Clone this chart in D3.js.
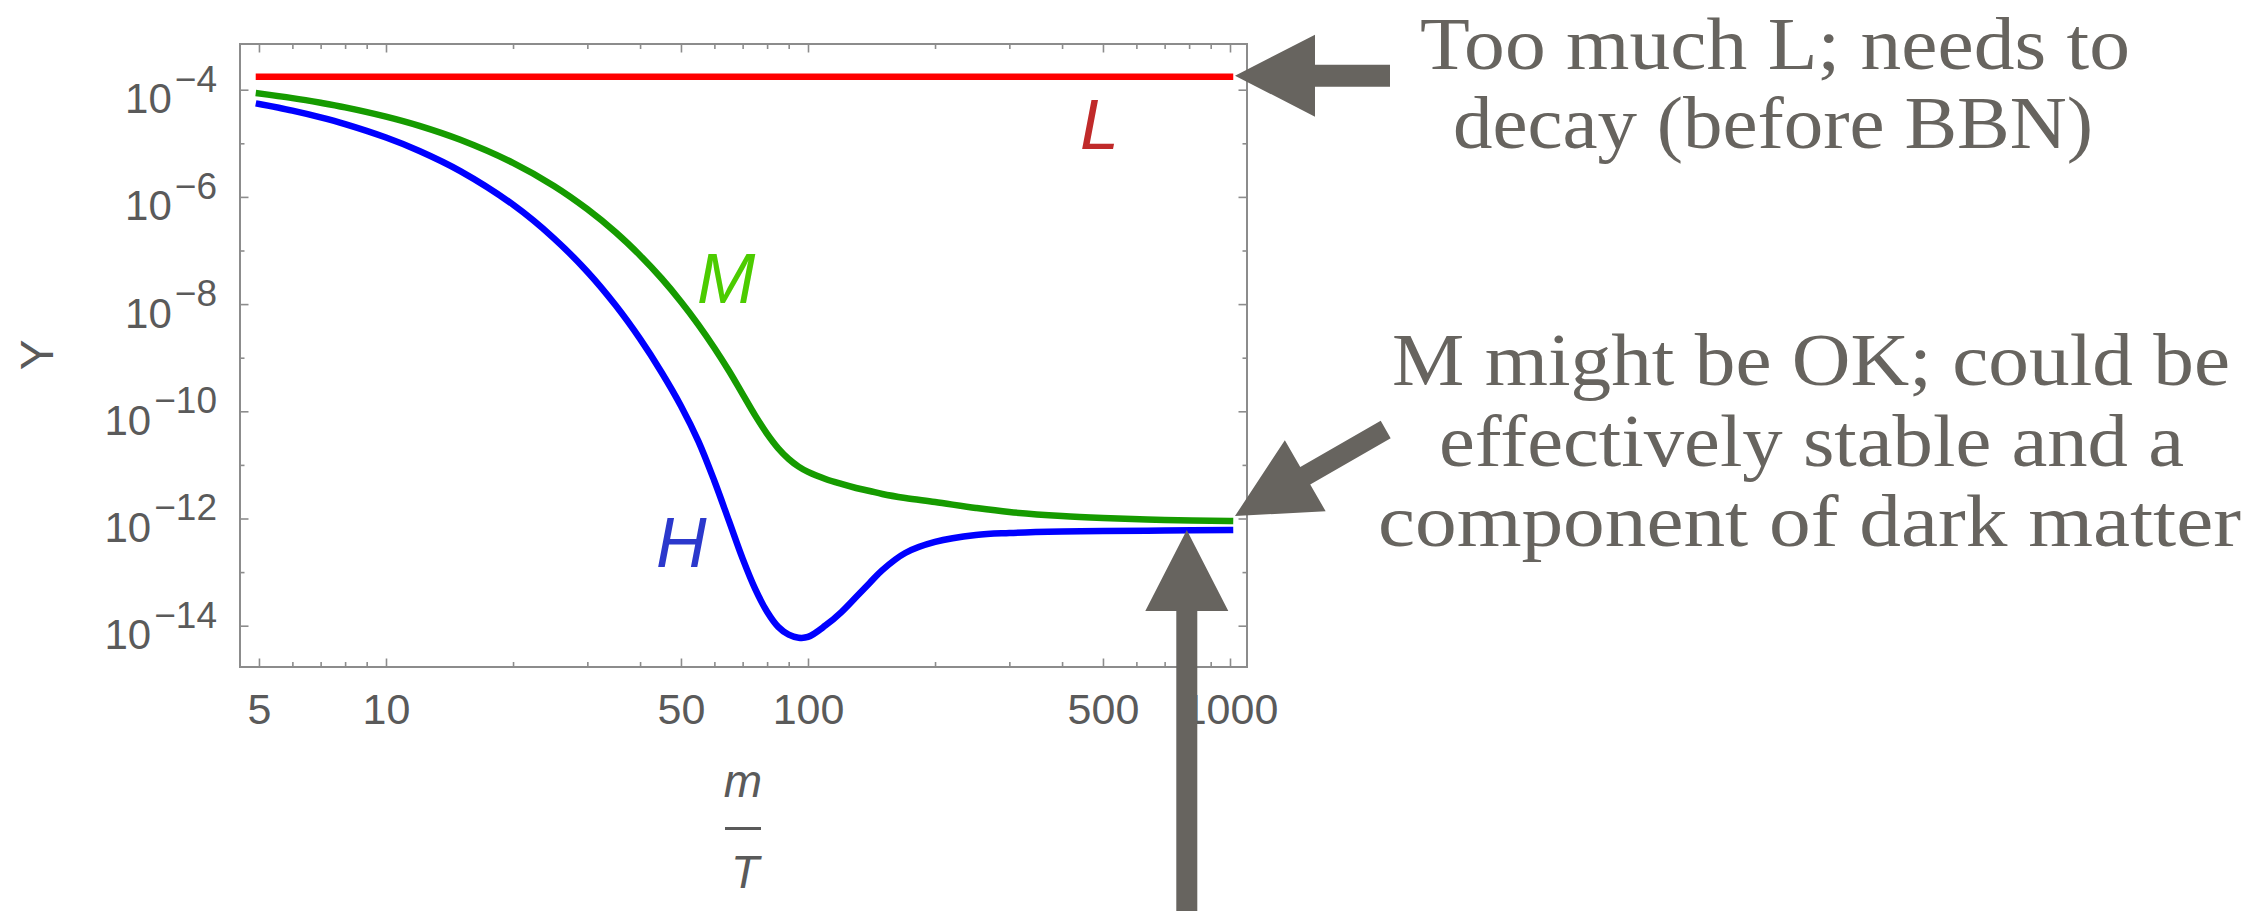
<!DOCTYPE html>
<html><head><meta charset="utf-8">
<script src="https://cdn.jsdelivr.net/npm/d3@7"></script>
<style>html,body{margin:0;padding:0;background:#fff;} svg{display:block}</style>
</head><body>
<svg id="chart" width="2268" height="911"></svg>
<script>
// ---------------- data ----------------
const mOverT = [5,6,7,8,10,12,15,20,25,30,35,40,45,50,55,60,65,70,75,80,85,90,95,100,110,120,130,140,150,170,200,250,300,400,500,700,1000];
const yM = [8.49e-5,6.97e-5,5.70e-5,4.68e-5,3.14e-5,2.11e-5,1.16e-5,4.31e-6,1.60e-6,5.90e-7,2.19e-7,8.09e-8,3.00e-8,1.11e-8,4.11e-9,1.52e-9,5.64e-10,2.09e-10,8.3e-11,3.8e-11,2.04e-11,1.29e-11,9.3e-12,7.4e-12,5.46e-12,4.41e-12,3.71e-12,3.26e-12,2.86e-12,2.41e-12,2.03e-12,1.57e-12,1.32e-12,1.11e-12,1.02e-12,9.37e-13,8.97e-13];
const yH = [5.41e-5,4.06e-5,3.04e-5,2.28e-5,1.28e-5,7.19e-6,3.03e-6,7.16e-7,1.69e-7,4.01e-8,9.48e-9,2.24e-9,5.31e-10,1.26e-10,2.75e-11,5.0e-12,8.9e-13,1.78e-13,4.8e-14,1.82e-14,9.5e-15,6.8e-15,5.96e-15,6.17e-15,1.01e-14,1.80e-14,3.43e-14,6.27e-14,1.09e-13,2.27e-13,3.65e-13,4.92e-13,5.36e-13,5.71e-13,5.85e-13,5.97e-13,6.10e-13];
const xL = [5, 1000];
const yL = [1.75e-4, 1.75e-4];

const xMajor = [5,10,50,100,500,1000];
const xTickLabels = ["5","10","50","100","500","1000"];
const xMinor = [6,7,8,9,20,30,40,60,70,80,90,200,300,400,600,700,800,900];
const yMajor = [1e-4,1e-6,1e-8,1e-10,1e-12,1e-14];
const yTickExponents = ["\u22124","\u22126","\u22128","\u221210","\u221212","\u221214"];
const yMinor = [1e-5,1e-7,1e-9,1e-11,1e-13];

const seriesNames = ["L","M","H"];
const noteL = ["Too much L; needs to", "decay (before BBN)"];
const noteM = ["M might be OK; could be", "effectively stable and a", "component of dark matter"];
const arrowUpAt = 790;

// ---------------- layout ----------------
const frame = {left:240, right:1247, top:44, bottom:667};
const svg = d3.select("#chart");
svg.append("rect").attr("width",2268).attr("height",911).attr("fill","#ffffff");

const x = d3.scaleLog().domain([10, 1000]).range([386, 1230]);
const y = d3.scaleLog().domain([1e-14, 1e-4]).range([625.7, 89.7]);

const axisColor = "#8c8c8c";
const labelColor = "#5a5a5a";

function styleAxis(g){
  g.select(".domain").remove();
  g.selectAll(".tick line").attr("stroke", axisColor).attr("stroke-width", 1.6);
}
function noText(g){ g.selectAll(".tick text").remove(); }
// bottom
svg.append("g").attr("transform",`translate(0,${frame.bottom})`)
  .call(d3.axisBottom(x).tickValues(xMajor).tickSize(-8.5).tickPadding(26)
        .tickFormat((d,i)=>xTickLabels[i]))
  .call(styleAxis)
  .call(g=>g.selectAll("text").attr("font-family","Liberation Sans, Arial, sans-serif")
        .attr("font-size",43).attr("fill",labelColor));
svg.append("g").attr("transform",`translate(0,${frame.bottom})`)
  .call(d3.axisBottom(x).tickValues(xMinor).tickSize(-5).tickFormat(""))
  .call(styleAxis).call(noText);
// top
svg.append("g").attr("transform",`translate(0,${frame.top})`)
  .call(d3.axisTop(x).tickValues(xMajor).tickSize(-8.5).tickFormat(""))
  .call(styleAxis).call(noText);
svg.append("g").attr("transform",`translate(0,${frame.top})`)
  .call(d3.axisTop(x).tickValues(xMinor).tickSize(-5).tickFormat(""))
  .call(styleAxis).call(noText);
// left
const leftAx = svg.append("g").attr("transform",`translate(${frame.left},0)`)
  .call(d3.axisLeft(y).tickValues(yMajor).tickSize(-8.5).tickPadding(23).tickFormat(""))
  .call(styleAxis);
leftAx.selectAll(".tick text").each(function(d,i){
  const t = d3.select(this);
  t.attr("dy","23px").attr("font-family","Liberation Sans, Arial, sans-serif")
   .attr("fill",labelColor).attr("text-anchor","end");
  t.append("tspan").attr("font-size",42).text("10");
  t.append("tspan").attr("font-size",37).attr("dx",3).attr("dy",-21.6).text(yTickExponents[i]);
});
svg.append("g").attr("transform",`translate(${frame.left},0)`)
  .call(d3.axisLeft(y).tickValues(yMinor).tickSize(-4.5).tickFormat(""))
  .call(styleAxis).call(noText);
// right
svg.append("g").attr("transform",`translate(${frame.right},0)`)
  .call(d3.axisRight(y).tickValues(yMajor).tickSize(-8.5).tickFormat(""))
  .call(styleAxis).call(noText);
svg.append("g").attr("transform",`translate(${frame.right},0)`)
  .call(d3.axisRight(y).tickValues(yMinor).tickSize(-4.5).tickFormat(""))
  .call(styleAxis).call(noText);

svg.append("rect").attr("x",frame.left).attr("y",frame.top)
  .attr("width",frame.right-frame.left).attr("height",frame.bottom-frame.top)
  .attr("fill","none").attr("stroke",axisColor).attr("stroke-width",2);

// axis labels
svg.append("text").attr("transform","translate(53,355) rotate(-90)")
  .attr("text-anchor","middle").attr("font-family","Liberation Sans, Arial, sans-serif")
  .attr("font-size",46).attr("fill",labelColor).text("Y");
const xl = svg.append("g").attr("font-family","Liberation Sans, Arial, sans-serif")
  .attr("font-style","italic").attr("font-size",46).attr("fill",labelColor);
xl.append("text").attr("x",743).attr("y",797).attr("text-anchor","middle").text("m");
xl.append("line").attr("x1",725).attr("x2",761).attr("y1",828.5).attr("y2",828.5)
  .attr("stroke",labelColor).attr("stroke-width",3);
xl.append("text").attr("x",745).attr("y",888).attr("text-anchor","middle").text("T");

// ---------------- series ----------------
const line = d3.line().x(d=>x(d[0])).y(d=>y(d[1])).curve(d3.curveCatmullRom.alpha(0.5));
const series = [
  {name:"L", pts:d3.zip(xL,yL), color:"#ff0000"},
  {name:"M", pts:d3.zip(mOverT,yM), color:"#169b00"},
  {name:"H", pts:d3.zip(mOverT,yH), color:"#0000ff"}
];
svg.append("g").selectAll("path").data(series).join("path")
  .attr("d",d=>line(d.pts)).attr("fill","none").attr("stroke",d=>d.color)
  .attr("stroke-width",6.5).attr("stroke-linecap","square");

// curve labels
const labelPos = {L:[1080,149,"#c02a2a"], M:[697,303,"#4ccc00"], H:[656,567,"#2b38cc"]};
svg.append("g").selectAll("text").data(seriesNames).join("text")
  .attr("x",d=>labelPos[d][0]).attr("y",d=>labelPos[d][1]).attr("fill",d=>labelPos[d][2])
  .attr("font-family","Liberation Sans, Arial, sans-serif").attr("font-style","italic")
  .attr("font-size",70).text(d=>d);

// ---------------- annotations ----------------
const noteColor = "#67645f";
function arrowPts(tx,ty,sx,sy,shaftW,headW,headL){
  const dx=sx-tx, dy=sy-ty, len=Math.hypot(dx,dy);
  const ux=dx/len, uy=dy/len, px=-uy, py=ux;
  const bx=tx+ux*headL, by=ty+uy*headL;
  return [[tx,ty],[bx+px*headW/2,by+py*headW/2],[bx+px*shaftW/2,by+py*shaftW/2],
    [sx+px*shaftW/2,sy+py*shaftW/2],[sx-px*shaftW/2,sy-py*shaftW/2],
    [bx-px*shaftW/2,by-py*shaftW/2],[bx-px*headW/2,by-py*headW/2]];
}
const endX = x(mOverT[mOverT.length-1]) + 5;
const a1 = [endX, y(yL[1]) - 1];
const a2 = [endX, y(yM[yM.length-1]) - 5];
const a3 = [x(arrowUpAt), y(yH[yH.length-1])];
const arrows = [
  arrowPts(a1[0],a1[1],1390,a1[1],22,82,80),
  arrowPts(a2[0],a2[1],a2[0]+150.7,a2[1]-86.5,20,82,81),
  arrowPts(a3[0],a3[1],a3[0],960,21,83,81)
];
svg.append("g").selectAll("polygon").data(arrows).join("polygon")
  .attr("points",d=>d.map(p=>p.join(",")).join(" ")).attr("fill",noteColor);

const notes = [
  {text:noteL[0], x:1420, y:69, w:710},
  {text:noteL[1], x:1453, y:148, w:640},
  {text:noteM[0], x:1392, y:385, w:838},
  {text:noteM[1], x:1439, y:466, w:745},
  {text:noteM[2], x:1378, y:546, w:863}
];
svg.append("g").selectAll("text").data(notes).join("text")
  .attr("x",d=>d.x).attr("y",d=>d.y).attr("textLength",d=>d.w)
  .attr("lengthAdjust","spacingAndGlyphs")
  .attr("font-family","Liberation Serif, Times New Roman, serif").attr("font-size",75)
  .attr("fill",noteColor).text(d=>d.text);
</script>
</body></html>
